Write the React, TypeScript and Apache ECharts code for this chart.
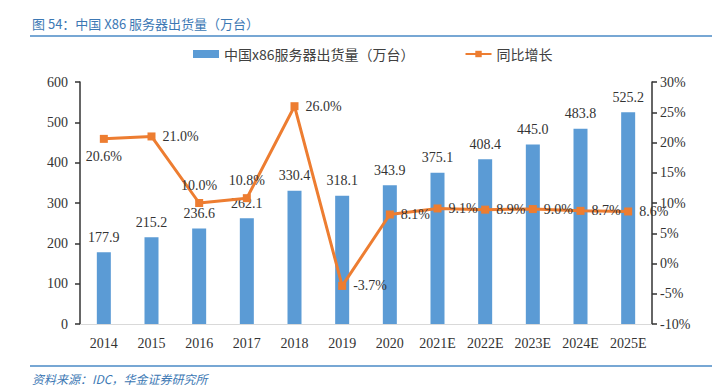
import React, { useEffect, useRef } from "react";
import * as echarts from "echarts";

const categories = ["2014", "2015", "2016", "2017", "2018", "2019", "2020", "2021E", "2022E", "2023E", "2024E", "2025E"];
const shipments = [177.9, 215.2, 236.6, 262.1, 330.4, 318.1, 343.9, 375.1, 408.4, 445.0, 483.8, 525.2];
const growth = [20.6, 21.0, 10.0, 10.8, 26.0, -3.7, 8.1, 9.1, 8.9, 9.0, 8.7, 8.6];
const growthLabelPos = ["bottom", "right", "top", "top", "right", "right", "right", "right", "right", "right", "right", "right"];

const SERIF = "'Times New Roman', 'Liberation Serif', 'Noto Sans CJK SC', serif";

export default function App() {
  const ref = useRef<HTMLDivElement>(null);
  useEffect(() => {
    if (!ref.current) return;
    const chart = echarts.init(ref.current, undefined, { renderer: "svg" });
    chart.setOption({
      animation: false,
      backgroundColor: "#ffffff",
      textStyle: { fontFamily: SERIF },
      graphic: [
        {
          type: "text",
          left: 32,
          top: 17,
          style: {
            text: "图 54：中国 X86 服务器出货量（万台）",
            fill: "#3c78b4",
            font: "13px 'Noto Sans CJK SC', sans-serif",
          },
        },
        { type: "line", shape: { x1: 30, y1: 36, x2: 712, y2: 36 }, style: { stroke: "#4a8ac6", lineWidth: 1.5 } },
        { type: "line", shape: { x1: 30, y1: 366, x2: 712, y2: 366 }, style: { stroke: "#4a8ac6", lineWidth: 1.5 } },
        {
          type: "text",
          left: 32,
          top: 372,
          style: {
            text: "资料来源：IDC，华金证券研究所",
            fill: "#3c78b4",
            font: "italic 12px 'Noto Sans CJK SC', sans-serif",
          },
        },
      ],
      legend: {
        top: 42,
        left: 188,
        itemGap: 50,
        itemWidth: 26,
        itemHeight: 8,
        textStyle: { fontFamily: "'Noto Sans CJK SC', sans-serif", fontSize: 14, color: "#404040" },
        data: [
          { name: "中国x86服务器出货量（万台）", icon: "rect" },
          { name: "同比增长" },
        ],
      },
      grid: { left: 80, right: 60, top: 82, bottom: 66 },
      xAxis: {
        type: "category",
        data: categories,
        axisLine: { lineStyle: { color: "#d9d9d9", width: 1 } },
        axisTick: { show: false },
        axisLabel: { color: "#333", fontSize: 14, fontFamily: SERIF, margin: 12, interval: 0 },
      },
      yAxis: [
        {
          type: "value",
          min: 0,
          max: 600,
          interval: 100,
          axisLine: { show: true, lineStyle: { color: "#333", width: 1.5 } },
          axisTick: { show: true, inside: false, length: 5, lineStyle: { color: "#333", width: 1.5 } },
          splitLine: { show: false },
          axisLabel: { color: "#333", fontSize: 14, fontFamily: SERIF, margin: 12 },
        },
        {
          type: "value",
          min: -10,
          max: 30,
          interval: 5,
          position: "right",
          axisLine: { show: true, lineStyle: { color: "#333", width: 1.5 } },
          axisTick: { show: true, inside: false, length: 5, lineStyle: { color: "#333", width: 1.5 } },
          splitLine: { show: false },
          axisLabel: { color: "#333", fontSize: 14, fontFamily: SERIF, margin: 8, formatter: "{value}%" },
        },
      ],
      series: [
        {
          name: "中国x86服务器出货量（万台）",
          type: "bar",
          data: shipments,
          barWidth: 14,
          itemStyle: { color: "#5b9bd5" },
          label: {
            show: true,
            position: "top",
            distance: 8,
            color: "#333",
            fontSize: 14,
            fontFamily: SERIF,
            formatter: (p: any) => Number(p.value).toFixed(1),
          },
        },
        {
          name: "同比增长",
          type: "line",
          yAxisIndex: 1,
          data: growth.map((v, i) => ({
            value: v,
            label: { position: growthLabelPos[i] as any },
          })),
          symbol: "rect",
          symbolSize: 8,
          lineStyle: { color: "#ed7d31", width: 3 },
          itemStyle: { color: "#ed7d31" },
          label: {
            show: true,
            color: "#333",
            fontSize: 14,
            fontFamily: SERIF,
            distance: 7,
            formatter: (p: any) => Number(p.value).toFixed(1) + "%",
          },
          z: 5,
        },
      ],
    });
    return () => chart.dispose();
  }, []);
  return <div ref={ref} style={{ width: 712, height: 390, position: "absolute", left: 0, top: 0 }} />;
}
